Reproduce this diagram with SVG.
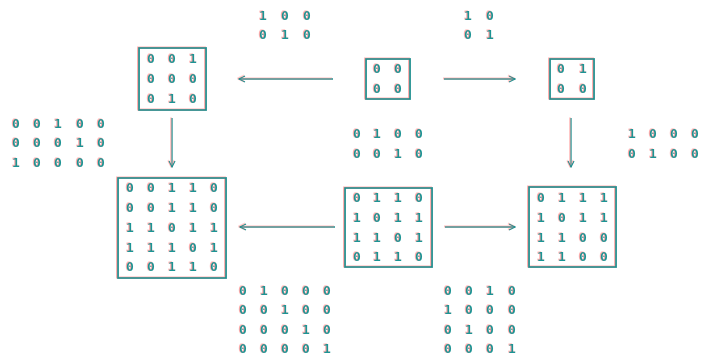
<svg xmlns="http://www.w3.org/2000/svg" width="703" height="358" viewBox="0 0 703 358">
<defs>
<style>
.t{font-family:"DejaVu Sans Mono","Liberation Mono",monospace;font-size:13px;font-weight:bold;fill:#1e9494;text-anchor:middle;dominant-baseline:central}
.b{fill:none;stroke:#1e8f8f;stroke-width:1.8}
.c{fill:none;stroke:#1e8f8f;stroke-width:1.3}
</style>
<filter id="ab" x="-10%" y="-10%" width="120%" height="120%">
<feDropShadow dx="-1" dy="-0.5" stdDeviation="0.4" flood-color="#ff5050" flood-opacity="0.5"/>
</filter>
<marker id="ah" viewBox="0 0 8 8" refX="7" refY="4" markerWidth="8" markerHeight="8" markerUnits="userSpaceOnUse" orient="auto">
<path d="M1,1 L7,4 L1,7" fill="none" stroke="#1e8f8f" stroke-width="1.2"/>
</marker>
</defs>
<rect width="703" height="358" fill="#ffffff"/>
<g filter="url(#ab)">
<g id="connectors">
<line class="c" x1="333" y1="79" x2="239" y2="79" marker-end="url(#ah)"/>
<line class="c" x1="444" y1="79" x2="515" y2="79" marker-end="url(#ah)"/>
<line class="c" x1="172" y1="118" x2="172" y2="167" marker-end="url(#ah)"/>
<line class="c" x1="571" y1="118" x2="571" y2="167" marker-end="url(#ah)"/>
<line class="c" x1="335" y1="227" x2="240" y2="227" marker-end="url(#ah)"/>
<line class="c" x1="445" y1="227" x2="515" y2="227" marker-end="url(#ah)"/>
</g>
<g id="labels">
<text class="t" x="263 285 307" y="15">100</text>
<text class="t" x="263 285 307" y="34">010</text>
<text class="t" x="468 490" y="15">10</text>
<text class="t" x="468 490" y="34">01</text>
<text class="t" x="16 37 58 80 101" y="123">00100</text>
<text class="t" x="16 37 58 80 101" y="142">00010</text>
<text class="t" x="16 37 58 80 101" y="162">10000</text>
<text class="t" x="357 377 398 419" y="133">0100</text>
<text class="t" x="357 377 398 419" y="153">0010</text>
<text class="t" x="632 653 674 695" y="133">1000</text>
<text class="t" x="632 653 674 695" y="153">0100</text>
<text class="t" x="243 264 285 306 327" y="290">01000</text>
<text class="t" x="243 264 285 306 327" y="309">00100</text>
<text class="t" x="243 264 285 306 327" y="329">00010</text>
<text class="t" x="243 264 285 306 327" y="348">00001</text>
<text class="t" x="448 469 490 512" y="290">0010</text>
<text class="t" x="448 469 490 512" y="309">1000</text>
<text class="t" x="448 469 490 512" y="329">0100</text>
<text class="t" x="448 469 490 512" y="348">0001</text>
</g>
<g id="node-topleft">
<rect class="b" x="139" y="48" width="67" height="62"/>
<text class="t" x="151 172 193" y="58">001</text>
<text class="t" x="151 172 193" y="78">000</text>
<text class="t" x="151 172 193" y="98">010</text>
</g>
<g id="node-topcenter">
<rect class="b" x="366" y="59" width="44" height="40"/>
<text class="t" x="377 398" y="68">00</text>
<text class="t" x="377 398" y="88">00</text>
</g>
<g id="node-topright">
<rect class="b" x="550" y="59" width="44" height="40"/>
<text class="t" x="561 583" y="68">01</text>
<text class="t" x="561 583" y="88">00</text>
</g>
<g id="node-bottomleft">
<rect class="b" x="118" y="178" width="108" height="100"/>
<text class="t" x="130 151 172 193 214" y="187">00110</text>
<text class="t" x="130 151 172 193 214" y="207">00110</text>
<text class="t" x="130 151 172 193 214" y="227">11011</text>
<text class="t" x="130 151 172 193 214" y="247">11101</text>
<text class="t" x="130 151 172 193 214" y="266">00110</text>
</g>
<g id="node-bottomcenter">
<rect class="b" x="345" y="188" width="87" height="79"/>
<text class="t" x="357 377 398 419" y="197">0110</text>
<text class="t" x="357 377 398 419" y="217">1011</text>
<text class="t" x="357 377 398 419" y="237">1101</text>
<text class="t" x="357 377 398 419" y="256">0110</text>
</g>
<g id="node-bottomright">
<rect class="b" x="529" y="187" width="87" height="80"/>
<text class="t" x="541 562 583 604" y="197">0111</text>
<text class="t" x="541 562 583 604" y="217">1011</text>
<text class="t" x="541 562 583 604" y="237">1100</text>
<text class="t" x="541 562 583 604" y="256">1100</text>
</g>
</g>
</svg>
